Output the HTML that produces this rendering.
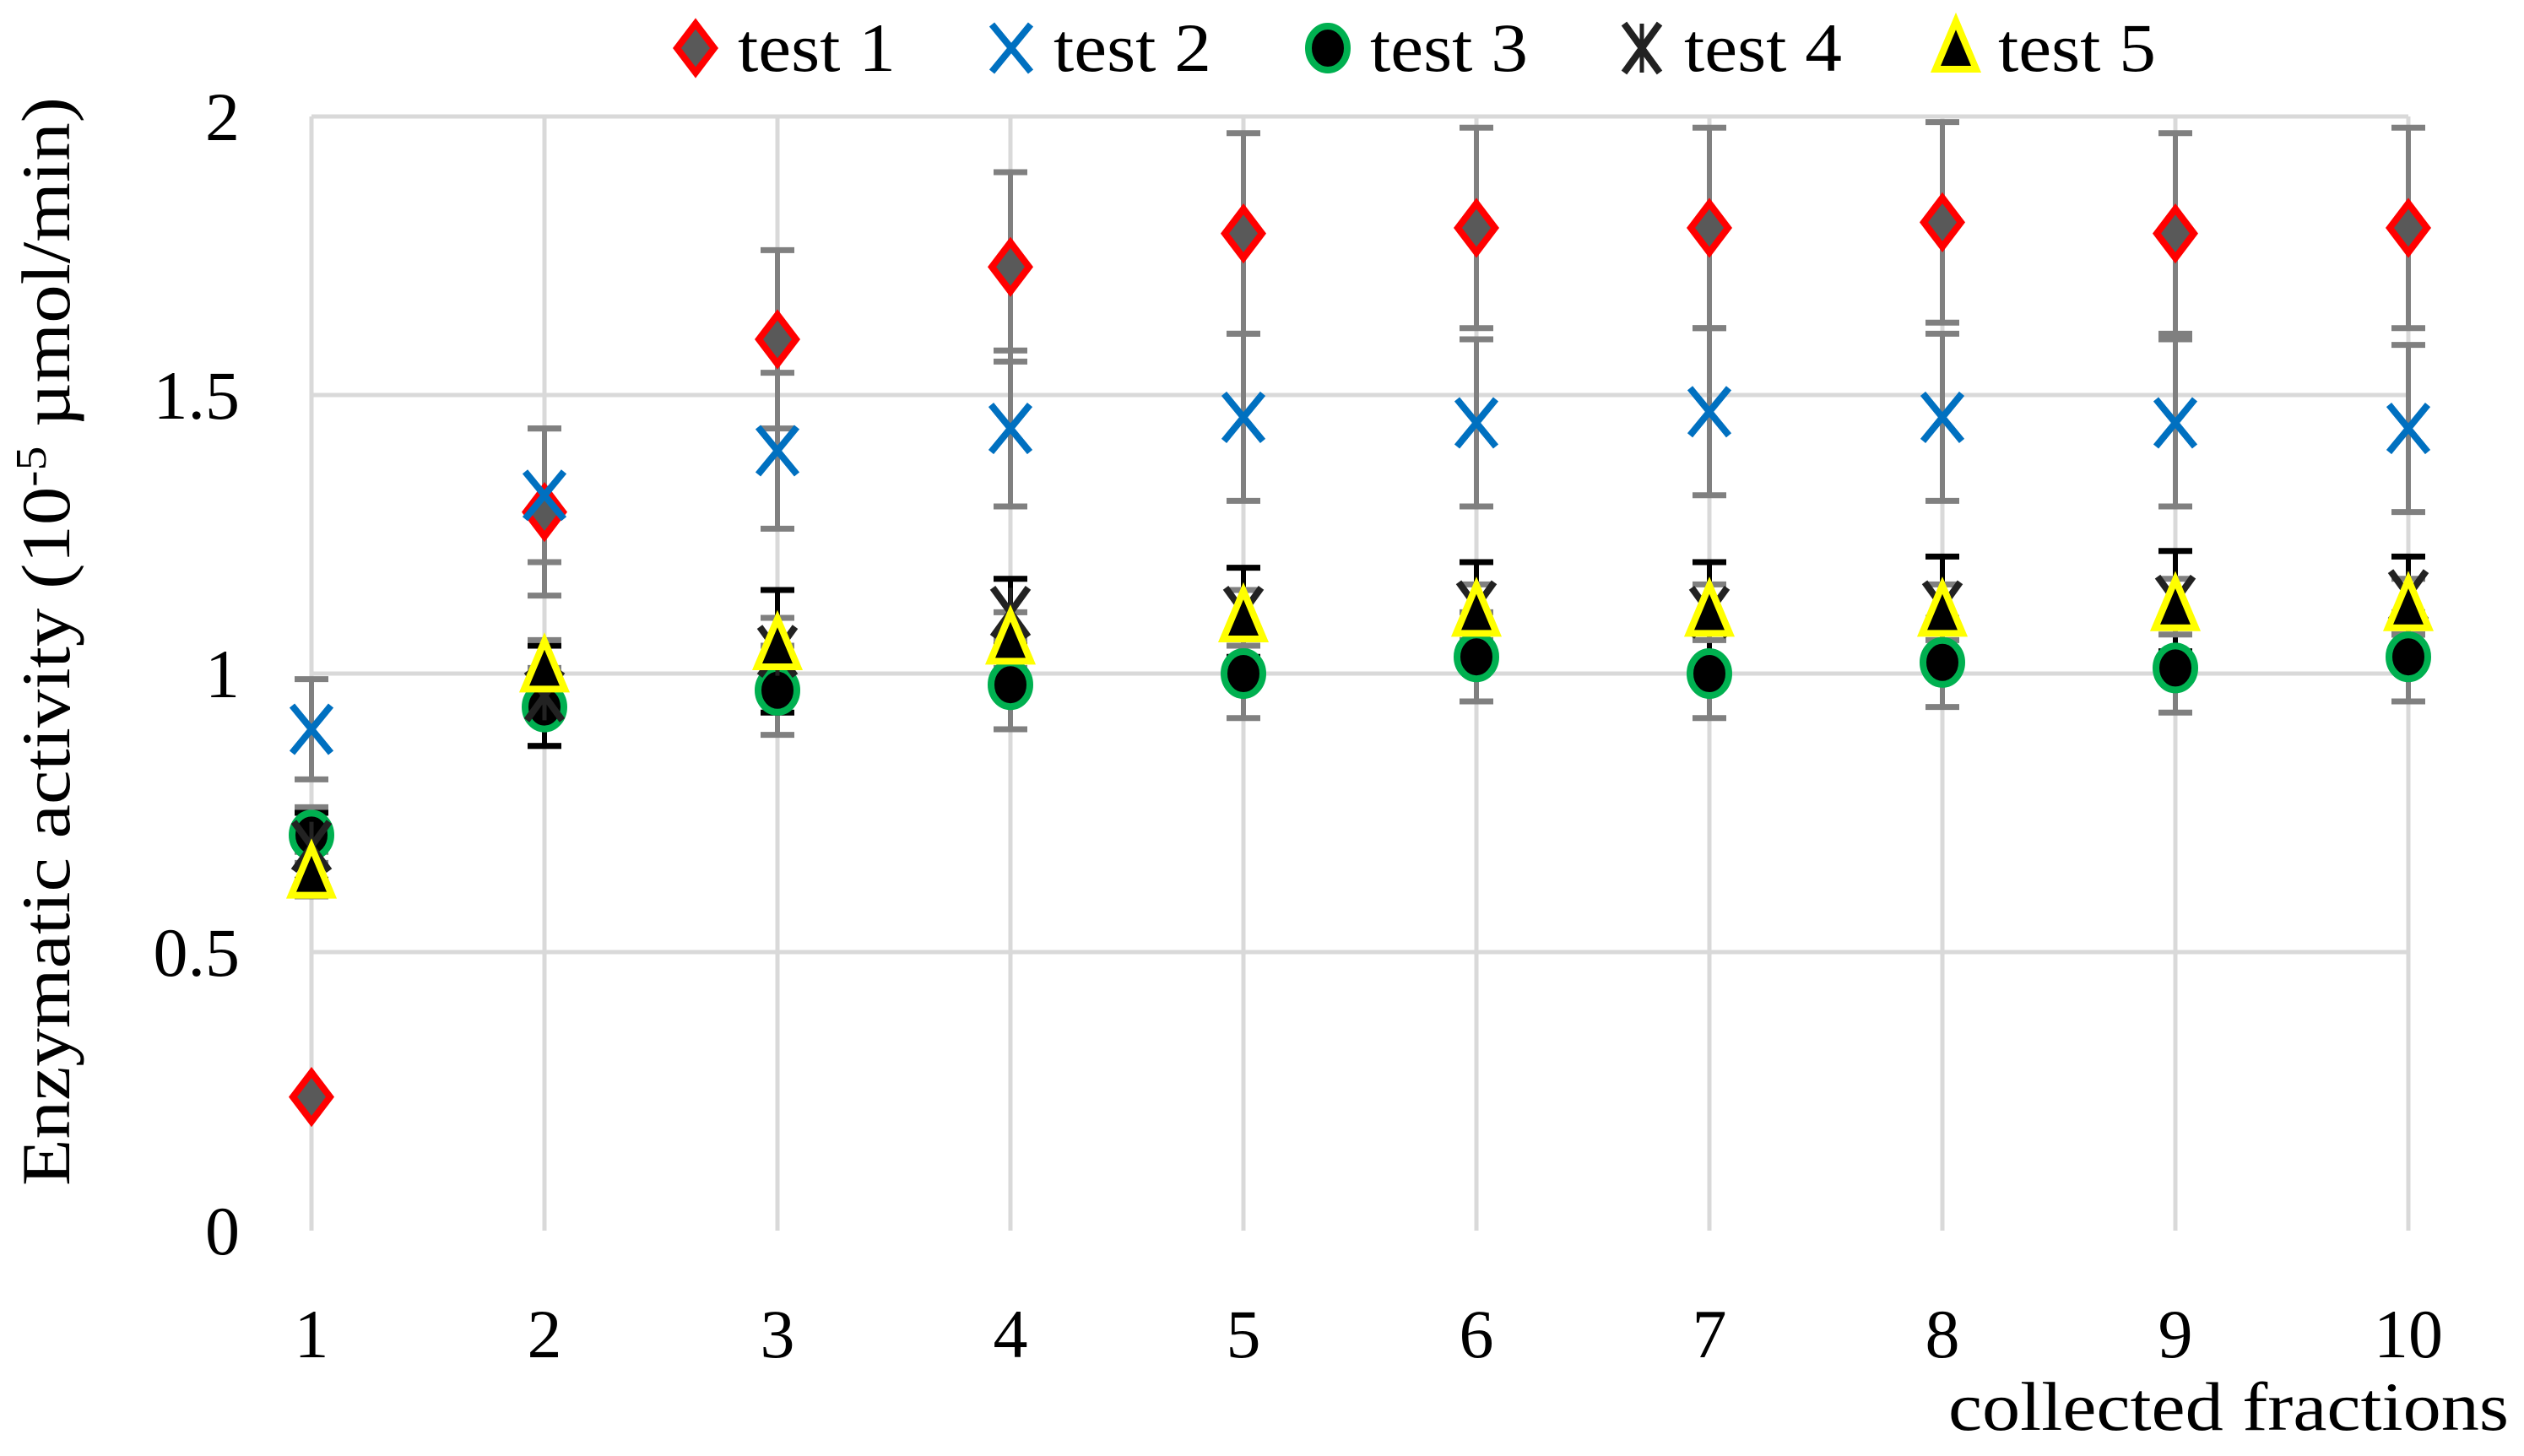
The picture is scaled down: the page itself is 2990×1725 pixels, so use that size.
<!DOCTYPE html>
<html><head><meta charset="utf-8"><style>
html,body{margin:0;padding:0;background:#fff;}
svg text{font-family:"Liberation Serif",serif;fill:#000;}
</style></head><body>
<svg id="chart" width="2990" height="1720" viewBox="0 0 2990 1720" xmlns="http://www.w3.org/2000/svg">
<g id="grid"></g>
<g id="axes"></g>
<g id="series"></g>
<g id="legend"></g>
</svg>
<script>
const categories=[1,2,3,4,5,6,7,8,9,10];
const yTicks=[0,0.5,1,1.5,2];
const yTickLabels=["0","0.5","1","1.5","2"];
const test1=[0.24,1.29,1.60,1.73,1.79,1.80,1.80,1.81,1.79,1.80];
const err1=[0,0.15,0.16,0.17,0.18,0.18,0.18,0.18,0.18,0.18];
const test2=[0.90,1.32,1.40,1.44,1.46,1.45,1.47,1.46,1.45,1.44];
const err2=[0.09,0.12,0.14,0.14,0.15,0.15,0.15,0.15,0.15,0.15];
const test3=[0.71,0.94,0.97,0.98,1.00,1.03,1.00,1.02,1.01,1.03];
const err3=[0.05,0.07,0.08,0.08,0.08,0.08,0.08,0.08,0.08,0.08];
const test4=[0.69,0.96,1.04,1.11,1.11,1.12,1.11,1.12,1.13,1.14];
const err4=[0.06,0.09,0.11,0.06,0.08,0.08,0.09,0.09,0.09,0.07];
const test5=[0.64,1.01,1.05,1.06,1.10,1.11,1.11,1.11,1.12,1.12];
const err5=[0.04,0.05,0.05,0.05,0.05,0.05,0.05,0.05,0.05,0.05];
const legendLabels=["test 1","test 2","test 3","test 4","test 5"];

const NS="http://www.w3.org/2000/svg";
const X0=369,DX=276,Y0=1458,YS=660;
function xs(c){return X0+(c-1)*DX;}
function ys(v){return Y0-v*YS;}
function mk(parent,tag,attrs){const e=document.createElementNS(NS,tag);for(const k in attrs)e.setAttribute(k,attrs[k]);parent.appendChild(e);return e;}
const grid=document.getElementById('grid'),axes=document.getElementById('axes'),series=document.getElementById('series'),legend=document.getElementById('legend');

yTicks.forEach((t,i)=>{
  if(t>0){const l=mk(grid,'line',{x1:xs(1),x2:xs(10),y1:ys(t),y2:ys(t),stroke:'#d9d9d9','stroke-width':5});
  
  }
  const tx=mk(axes,'text',{x:284,y:ys(t)+28,'font-size':82,'text-anchor':'end'});
  tx.textContent=yTickLabels[i];
  
  
});
categories.forEach(c=>{
  const l=mk(grid,'line',{x1:xs(c),x2:xs(c),y1:ys(2),y2:ys(0),stroke:'#d9d9d9','stroke-width':5});
  
  
  const tx=mk(axes,'text',{x:xs(c),y:1608,'font-size':82,'text-anchor':'middle'});
  tx.textContent=String(c);
  
  
});
const xt=mk(axes,'text',{x:2308,y:1694,'font-size':82,textLength:664,lengthAdjust:'spacingAndGlyphs'});
xt.textContent='collected fractions';


const yt=mk(axes,'text',{x:0,y:0,'font-size':82,'text-anchor':'middle',transform:'translate(82,760) rotate(-90)',textLength:1290,lengthAdjust:'spacingAndGlyphs'});
yt.innerHTML='Enzymatic activity (10<tspan dy="-28" font-size="52">-5</tspan><tspan dy="28"> µmol/min)</tspan>';



function errbars(vals,errs,color,name){
  const g=mk(series,'g',{});
  
  
  categories.forEach((c,i)=>{
    if(errs[i]<=0)return;
    const x=xs(c),t=ys(vals[i]+errs[i]),b=ys(vals[i]-errs[i]);
    mk(g,'line',{x1:x,x2:x,y1:t,y2:b,stroke:color,'stroke-width':6});
    mk(g,'line',{x1:x-20,x2:x+20,y1:t,y2:t,stroke:color,'stroke-width':7});
    mk(g,'line',{x1:x-20,x2:x+20,y1:b,y2:b,stroke:color,'stroke-width':7});
  });
}
function marker(parent,type,x,y){
  if(type===1){return mk(parent,'polygon',{points:`${x},${y-29} ${x+22},${y} ${x},${y+29} ${x-22},${y}`,fill:'#595959',stroke:'#ff0000','stroke-width':8});}
  if(type===2){const g=mk(parent,'g',{stroke:'#0070c0','stroke-width':8});mk(g,'line',{x1:x-23,y1:y-28,x2:x+23,y2:y+28});mk(g,'line',{x1:x-23,y1:y+28,x2:x+23,y2:y-28});return g;}
  if(type===3){return mk(parent,'ellipse',{cx:x,cy:y,rx:23,ry:26,fill:'#000',stroke:'#00b050','stroke-width':8});}
  if(type===4){const g=mk(parent,'g',{stroke:'#222','stroke-width':8});mk(g,'line',{x1:x-21,y1:y-29,x2:x+21,y2:y+29});mk(g,'line',{x1:x-21,y1:y+29,x2:x+21,y2:y-29});mk(g,'line',{x1:x,y1:y-29,x2:x,y2:y+29,'stroke-width':5});return g;}
  return mk(parent,'polygon',{points:`${x},${y-32} ${x+24},${y+25} ${x-24},${y+25}`,fill:'#000',stroke:'#ffff00','stroke-width':8});
}
function points(vals,type,name){
  const g=mk(series,'g',{});
  
  
  categories.forEach((c,i)=>{
    const m=marker(g,type,xs(c),ys(vals[i]));
    
    
  });
}
errbars(test1,err1,'#808080','test1-error-bars');
errbars(test2,err2,'#808080','test2-error-bars');
errbars(test3,err3,'#808080','test3-error-bars');
errbars(test4,err4,'#000000','test4-error-bars');
errbars(test5,err5,'#808080','test5-error-bars');
points(test1,1,'test1');
points(test2,2,'test2');
points(test3,3,'test3');
points(test4,4,'test4');
points(test5,5,'test5');

const legX=[824,1198,1573,1945,2317];
legendLabels.forEach((lab,i)=>{
  const g=mk(legend,'g',{});
  
  
  marker(g,i+1,legX[i],57);
  const t=mk(g,'text',{x:legX[i]+50,y:84,'font-size':82,textLength:187,lengthAdjust:'spacingAndGlyphs'});
  t.textContent=lab;
});
</script>
</body></html>
